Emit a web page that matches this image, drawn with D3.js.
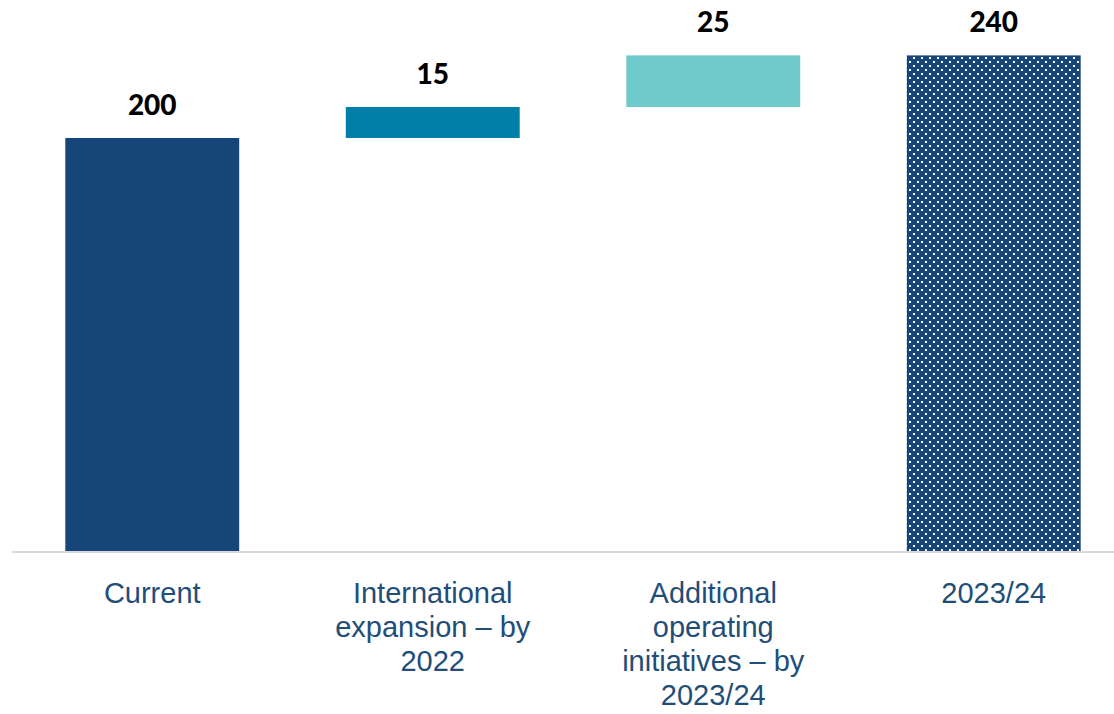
<!DOCTYPE html>
<html><head><meta charset="utf-8">
<script src="https://cdn.jsdelivr.net/npm/d3@7/dist/d3.min.js"></script>
<style>body{margin:0;background:#fff}svg{display:block}</style>
</head><body>
<svg id="c" width="1114" height="714"></svg>
<script>
const categories = ["Current", "International expansion – by 2022", "Additional operating initiatives – by 2023/24", "2023/24"];
const categoryLines = [["Current"], ["International", "expansion – by", "2022"], ["Additional", "operating", "initiatives – by", "2023/24"], ["2023/24"]];
const values = [200, 15, 25, 240];
const kinds = ["total", "delta", "delta", "total"];
const colors = ["#16457a", "#0080a8", "#6ecacb", "pattern"];

const svg = d3.select("#c");
const W = 1114, H = 714;
const baseY = 551;

const defs = svg.append("defs");
const pat = defs.append("pattern").attr("id", "dots").attr("patternUnits", "userSpaceOnUse")
  .attr("width", 8).attr("height", 8);
pat.append("rect").attr("width", 8).attr("height", 8).attr("fill", "#16457a");
pat.append("rect").attr("x", 1).attr("y", 1).attr("width", 2).attr("height", 2).attr("fill", "#fff");
pat.append("rect").attr("x", 5).attr("y", 5).attr("width", 2).attr("height", 2).attr("fill", "#fff");

const x = d3.scaleBand().domain(categories).range([12, 1134]).paddingInner(0.38).paddingOuter(0.19);
const y = d3.scaleLinear().domain([0, 200]).range([baseY, 138]);

let run = 0;
const bars = categories.map((c, i) => {
  let lo, hi;
  if (kinds[i] === "total") { lo = 0; hi = values[i]; run = values[i]; }
  else { lo = run; hi = run + values[i]; run = hi; }
  return { c, lo, hi, v: values[i], col: colors[i], lines: categoryLines[i] };
});

svg.append("g").selectAll("rect").data(bars).join("rect")
  .attr("x", d => x(d.c))
  .attr("width", x.bandwidth())
  .attr("y", d => y(d.hi))
  .attr("height", d => y(d.lo) - y(d.hi))
  .attr("fill", d => d.col === "pattern" ? "url(#dots)" : d.col);

svg.append("line").attr("x1", 12).attr("x2", W).attr("y1", baseY + 1).attr("y2", baseY + 1)
  .attr("stroke", "#d9d9d9").attr("stroke-width", 2);

svg.append("g").selectAll("text").data(bars).join("text")
  .attr("x", d => x(d.c) + x.bandwidth() / 2)
  .attr("y", d => y(d.hi) - 23)
  .attr("text-anchor", "middle")
  .attr("font-family", "Lato, 'Open Sans', sans-serif")
  .attr("font-weight", 900)
  .attr("font-size", 28)
  .attr("fill", "#000")
  .text(d => d.v);

const lg = svg.append("g").selectAll("text").data(bars).join("text")
  .attr("x", d => x(d.c) + x.bandwidth() / 2)
  .attr("y", 603)
  .attr("text-anchor", "middle")
  .attr("font-family", "'Liberation Sans', Arial, sans-serif")
  .attr("font-size", 29)
  .attr("fill", "#1f4e79");
lg.selectAll("tspan").data(d => d.lines).join("tspan")
  .attr("x", function() { return d3.select(this.parentNode).attr("x"); })
  .attr("dy", (d, i) => i === 0 ? 0 : 34)
  .text(d => d);
</script>
</body></html>
